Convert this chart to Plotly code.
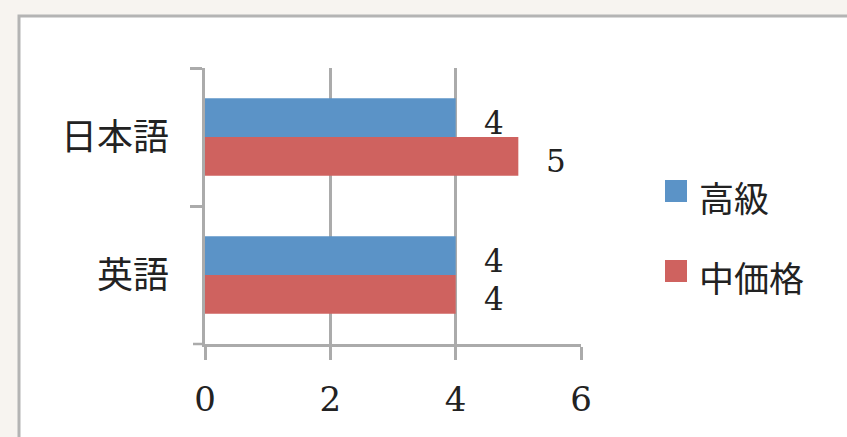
import plotly.graph_objects as go

# Data
categories = ["日本語", "英語"]
series_names = ["高級", "中価格"]
high_values = [4, 4]
mid_values = [5, 4]
x_ticks = [0, 2, 4, 6]

# Style
COLORS = ["#5b93c7", "#cf625f"]
AXIS_COLOR = "#ababab"
TEXT_COLOR = "#222222"
SERIF = "DejaVu Serif, Liberation Serif, serif"
CJK = "Noto Sans CJK JP, sans-serif"

W, H = 847, 437
M = dict(l=205, r=266, t=68, b=93)

fig = go.Figure()
values_by_series = [high_values, mid_values]
for name, vals, color in zip(series_names, values_by_series, COLORS):
    fig.add_trace(go.Bar(
        y=categories, x=vals, name=name, orientation="h",
        marker=dict(color=color, line=dict(width=0)),
        showlegend=False,
    ))

# Value labels beside each bar end
offsets = [14, -24]
for vals, dy in zip(values_by_series, offsets):
    for cat, v in zip(categories, vals):
        fig.add_annotation(
            x=v, y=cat, xref="x", yref="y", text=str(v), showarrow=False,
            xanchor="center", yanchor="middle", xshift=38, yshift=dy,
            font=dict(family=SERIF, size=31, color=TEXT_COLOR),
        )

# Pixel -> paper coordinate helpers for the legend and frame
pw = W - M["l"] - M["r"]
ph = H - M["t"] - M["b"]
def px_x(p):
    return (p - M["l"]) / pw
def px_y(p):
    return (H - M["b"] - p) / ph

# Legend swatches and labels
legend_rows = [191, 271]
for name, color, cy in zip(series_names, COLORS, legend_rows):
    fig.add_shape(type="rect", xref="paper", yref="paper",
                  x0=px_x(665), x1=px_x(687), y0=px_y(cy + 11), y1=px_y(cy - 11),
                  fillcolor=color, line=dict(width=0))
    fig.add_annotation(x=px_x(697), y=px_y(cy + 5), xref="paper", yref="paper",
                       text=name, showarrow=False, xanchor="left", yanchor="middle",
                       font=dict(family=CJK, size=35, color=TEXT_COLOR))

# Bottom-left tick where the x axis meets the y axis
fig.add_shape(type="line", xref="paper", yref="paper",
              x0=px_x(193), x1=0, y0=0, y1=0,
              line=dict(color=AXIS_COLOR, width=2.5))

# Chart frame
fig.add_shape(type="rect", xref="paper", yref="paper", layer="below",
              x0=px_x(19), x1=px_x(900), y0=px_y(480), y1=px_y(16),
              fillcolor="white", line=dict(color="#b4b4b4", width=3))

fig.update_layout(
    width=W, height=H, margin=M,
    paper_bgcolor="#f7f4f0", plot_bgcolor="rgba(0,0,0,0)",
    barmode="group", bargap=0.44, bargroupgap=0,
    showlegend=False,
    xaxis=dict(
        range=[0, 6], tickvals=x_ticks, ticktext=[str(t) for t in x_ticks],
        showgrid=True, gridcolor=AXIS_COLOR, gridwidth=2.5,
        showline=True, linecolor=AXIS_COLOR, linewidth=2.5,
        ticks="outside", ticklen=13, tickwidth=2.5, tickcolor=AXIS_COLOR,
        ticklabelstandoff=10, zeroline=False,
        tickfont=dict(family=SERIF, size=34, color=TEXT_COLOR),
        fixedrange=True,
    ),
    yaxis=dict(
        autorange="reversed", type="category", tickson="boundaries",
        showgrid=False, showline=True, linecolor=AXIS_COLOR, linewidth=2.5,
        ticks="outside", ticklen=12, tickwidth=2.5, tickcolor=AXIS_COLOR,
        ticklabelstandoff=26,
        tickfont=dict(family=CJK, size=36, color=TEXT_COLOR),
        fixedrange=True,
    ),
)

fig.write_html("out.html")
